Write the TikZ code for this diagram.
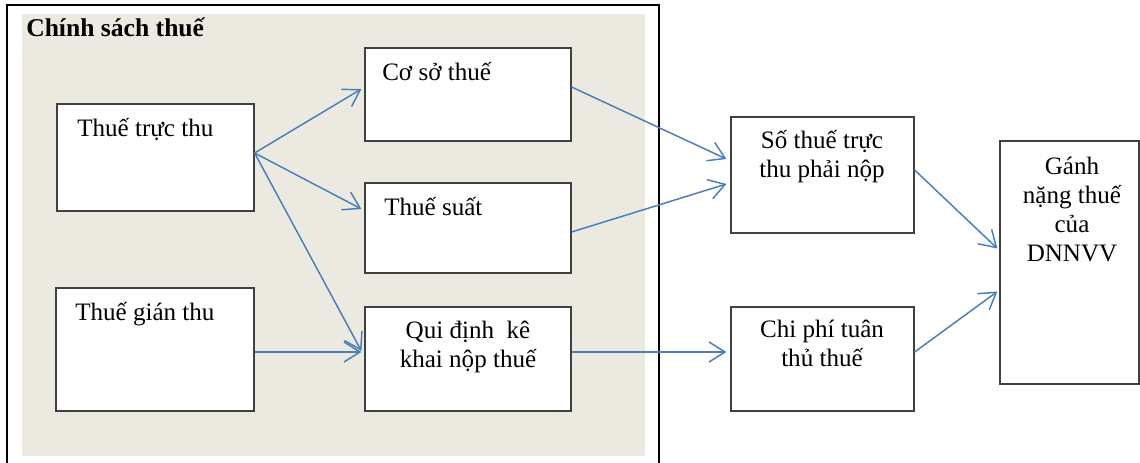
\documentclass[tikz,border=0pt]{standalone}
\usepackage{fontspec}
\setmainfont{Liberation Serif}
\usetikzlibrary{arrows.meta,fit,calc}
\definecolor{arrowblue}{HTML}{4A7EBB}
\definecolor{panelbg}{HTML}{ECE9E0}
\begin{document}
\begin{tikzpicture}[x=0.75pt,y=-0.75pt,
  box/.style={draw=black!75,line width=0.9pt,fill=white,inner sep=0pt},
  txt/.style={inner sep=0pt,font=\fontsize{18.8}{21.75}\selectfont},
  ctxt/.style={txt,align=center,anchor=base},
  ltxt/.style={txt,anchor=base west},
  arr/.style={draw=arrowblue,line width=1.1pt,-{Straight Barb[length=12pt,width=15pt]}}]
\useasboundingbox (0,0) rectangle (1140,463);
% frame and panel
\draw[line width=1.5pt] (7,466) -- (7,5) -- (659,5) -- (659,466);
\fill[panelbg] (22,14) rectangle (645,456);
\node[ltxt,font=\fontsize{19.2}{21.75}\selectfont\bfseries] (title) at (26,37) {Chính sách thuế};
% boxes
\node[box,fit={(57,104) (254,211)}] (A) {};
\node[box,fit={(365,48) (571,141)}] (B) {};
\node[box,fit={(365,183) (571,273)}] (C) {};
\node[box,fit={(56,288) (254,411)}] (D) {};
\node[box,fit={(365,307) (571,411)}] (E) {};
\node[box,fit={(731,117) (914,233)}] (F) {};
\node[box,fit={(731,307) (914,411)}] (G) {};
\node[box,fit={(1000,141) (1139,384)}] (H) {};
% texts
\node[ltxt] (At) at (77,137) {Thuế trực thu};
\node[ltxt] (Bt) at (382,81) {Cơ sở thuế};
\node[ltxt] (Ct) at (384,216) {Thuế suất};
\node[ltxt] (Dt) at (75,321) {Thuế gián thu};
\node[ctxt] (Et) at (468,368) {Qui định\ \ kê\\khai nộp thuế};
\node[ctxt] (Ft) at (822,178) {Số thuế trực\\thu phải nộp};
\node[ctxt] (Gt) at (822,367) {Chi phí tuân\\thủ thuế};
\node[ctxt] (Ht) at (1072,262) {Gánh\\nặng thuế\\của\\DNNVV};
% connectors
\draw[arr] ($(A.east)+(0,-4.5)$) -- ($(B.west)+(-3,-5.5)$);
\draw[arr] ($(A.east)+(0,-4.5)$) -- ($(C.west)+(-3,-19)$);
\draw[arr] ($(A.east)+(0,-4.5)$) -- ($(E.west)+(-3,-8)$);
\draw[arr] ($(D.east)+(0,2.5)$) -- ($(E.west)+(-3,-7)$);
\draw[arr] ($(B.east)+(0,-7.5)$) -- ($(F.west)+(-4,-16)$);
\draw[arr] ($(C.east)+(0,4)$) -- ($(F.west)+(-4,9)$);
\draw[arr] ($(E.east)+(0,-7)$) -- ($(G.west)+(-4,-7)$);
\draw[arr] ($(F.east)+(0,-5)$) -- ($(H.west)+(-2,-14)$);
\draw[arr] ($(G.east)+(0,-7)$) -- ($(H.west)+(-2,29)$);
\end{tikzpicture}
\end{document}
